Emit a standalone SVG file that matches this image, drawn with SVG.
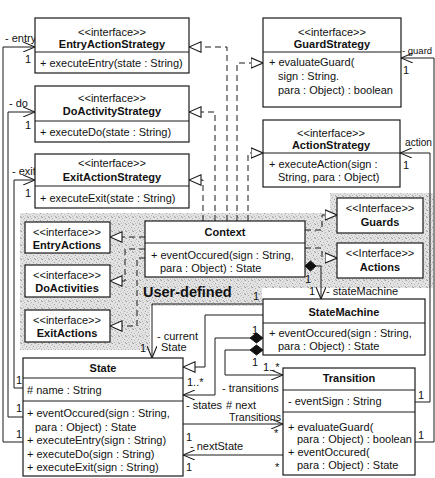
<svg xmlns="http://www.w3.org/2000/svg" width="435" height="478" viewBox="0 0 435 478">
  <style>
    .box { fill: #fff; stroke: #1a1a1a; stroke-width: 1.2; }
    .sep { stroke: #1a1a1a; stroke-width: 1; }
    .t { font-family: "Liberation Sans", Arial, sans-serif; font-size: 11px; fill: #111; }
    .b { font-weight: bold; }
    .c { text-anchor: middle; }
    .ln { fill: none; stroke: #1a1a1a; stroke-width: 1; }
    .dash { stroke-dasharray: 6 4; }
    .dia { fill: #111; stroke: #111; stroke-width: 1; }
  </style>
  <defs>
    <!-- grainy grey fill for the user-defined area -->
    <pattern id="stip" width="7" height="7" patternUnits="userSpaceOnUse">
      <rect width="7" height="7" fill="#e2e2e2"/>
      <rect x="0" y="0" width="1" height="1" fill="#9a9a9a"/>
      <rect x="3" y="1" width="1" height="1" fill="#b0b0b0"/>
      <rect x="5" y="3" width="1" height="1" fill="#a2a2a2"/>
      <rect x="1" y="4" width="1" height="1" fill="#bcbcbc"/>
      <rect x="4" y="5" width="1" height="1" fill="#c4c4c4"/>
      <rect x="6" y="6" width="1" height="1" fill="#aaaaaa"/>
      <rect x="2" y="2" width="1" height="1" fill="#cfcfcf"/>
      <rect x="6" y="0" width="1" height="1" fill="#c8c8c8"/>
      <rect x="2" y="6" width="1" height="1" fill="#b8b8b8"/>
    </pattern>
    <!-- navigable association end -->
    <marker id="open" viewBox="0 0 12 10" refX="12" refY="5" markerWidth="12" markerHeight="10" orient="auto" markerUnits="userSpaceOnUse">
      <path d="M0,0 L12,5 L0,10" fill="none" stroke="#1a1a1a" stroke-width="1.1" stroke-dasharray="none"/>
    </marker>
    <!-- realization / generalization end -->
    <marker id="tri" viewBox="0 0 13 12" refX="12.5" refY="6" markerWidth="13" markerHeight="12" orient="auto" markerUnits="userSpaceOnUse">
      <path d="M0.5,0.8 L12.5,6 L0.5,11.2 Z" fill="#fff" stroke="#1a1a1a" stroke-width="1.1" stroke-dasharray="none"/>
    </marker>
  </defs>

  <!-- user-defined area -->
  <path d="M20,213 H330 V193 H433 V288 H262 V306 H150 V350 H20 Z" fill="url(#stip)"/>
  <text class="t b" x="143" y="297" style="font-size:14.5px">User-defined</text>

  <!-- connectors -->
  <g id="connectors" class="ln">
    <!-- State to strategies -->
    <path d="M23,442 H3 V47 H35" marker-end="url(#open)"/>
    <path d="M23,417 H8 V112 H35" marker-end="url(#open)"/>
    <path d="M23,388 H14 V180 H35" marker-end="url(#open)"/>
    <!-- Context realizes the strategy interfaces -->
    <path class="dash" d="M227,221 V47 H189" marker-end="url(#tri)"/>
    <path class="dash" d="M215,221 V112 H189" marker-end="url(#tri)"/>
    <path class="dash" d="M203,221 V180 H189" marker-end="url(#tri)"/>
    <path class="dash" d="M237,221 V63 H263" marker-end="url(#tri)"/>
    <path class="dash" d="M248,221 V153 H263" marker-end="url(#tri)"/>
    <path class="dash" d="M145,237 H110" marker-end="url(#tri)"/>
    <path class="dash" d="M145,249 H125 V281 H110" marker-end="url(#tri)"/>
    <path class="dash" d="M145,258 H137 V326 H110" marker-end="url(#tri)"/>
    <path class="dash" d="M305,230 H322 V215 H337" marker-end="url(#tri)"/>
    <path class="dash" d="M305,248 H322 V258 H337" marker-end="url(#tri)"/>
    <!-- Context owns StateMachine -->
    <path d="M316,266 H321 V299" marker-end="url(#open)"/>
    <polygon class="dia" points="305,266 310.5,261 316,266 310.5,271"/>
    <!-- current state -->
    <path d="M263,304 H152 V358" marker-end="url(#open)"/>
    <!-- StateMachine is a State -->
    <path d="M263,315 H205 V367 H183" marker-end="url(#tri)"/>
    <!-- StateMachine owns states and transitions -->
    <path d="M250,338 H215 V395 H183" marker-end="url(#open)"/>
    <polygon class="dia" points="263,338 256.5,333 250,338 256.5,343"/>
    <path d="M250,350 H225 V375 H283" marker-end="url(#open)"/>
    <polygon class="dia" points="263,350 256.5,345 250,350 256.5,355"/>
    <!-- State / Transition -->
    <path d="M183,424 H283" marker-end="url(#open)"/>
    <path d="M283,455 H183" marker-end="url(#open)"/>
    <!-- Transition to guard and action -->
    <path d="M415,402 H430 V153 H400" marker-end="url(#open)"/>
    <path d="M415,442 H434 V58 H401" marker-end="url(#open)"/>
  </g>

  <!-- connector labels -->
  <g id="labels" class="t">
    <text x="5" y="42">- entry</text>
    <text x="25" y="63">1</text>
    <text x="9" y="107">- do</text>
    <text x="25" y="129">1</text>
    <text x="12" y="175">- exit</text>
    <text x="25" y="197">1</text>
    <text x="16" y="384">1</text>
    <text x="16" y="412">1</text>
    <text x="16" y="438">1</text>
    <text x="402" y="54" style="font-size:9.5px">- guard</text>
    <text x="403" y="74">1</text>
    <text x="405" y="146" textLength="27" lengthAdjust="spacingAndGlyphs">action</text>
    <text x="403" y="169">1</text>
    <text x="418" y="399">1</text>
    <text x="418" y="439">1</text>
    <text x="305" y="283">1</text>
    <text x="309" y="295">1</text>
    <text x="326" y="295">- stateMachine</text>
    <text x="253" y="300">1</text>
    <text x="140" y="352">1</text>
    <text x="157" y="340">- current</text>
    <text x="161" y="351">State</text>
    <text x="252" y="334">1</text>
    <text x="252" y="366">1</text>
    <text x="263" y="371">1..*</text>
    <text x="222" y="392">- transitions</text>
    <text x="187" y="386">1..*</text>
    <text x="186" y="409">- states</text>
    <text x="226" y="409"># next</text>
    <text x="229" y="421" textLength="52" lengthAdjust="spacingAndGlyphs">Transitions</text>
    <text x="274" y="437">*</text>
    <text x="186" y="441">1</text>
    <text x="190" y="450">- nextState</text>
    <text x="186" y="471">1</text>
    <text x="275" y="471">*</text>
  </g>

  <g id="EntryActionStrategy">
    <rect class="box" x="35" y="18" width="154" height="55"/>
    <line class="sep" x1="35" y1="52" x2="189" y2="52"/>
    <text class="t c" x="112" y="36">&lt;&lt;interface&gt;&gt;</text>
    <text class="t b c" x="112" y="48">EntryActionStrategy</text>
    <text class="t" x="40" y="67">+ executeEntry(state : String)</text>
  </g>

  <g id="DoActivityStrategy">
    <rect class="box" x="35" y="86" width="154" height="56"/>
    <line class="sep" x1="35" y1="121" x2="189" y2="121"/>
    <text class="t c" x="112" y="102">&lt;&lt;interface&gt;&gt;</text>
    <text class="t b c" x="112" y="115">DoActivityStrategy</text>
    <text class="t" x="40" y="136">+ executeDo(state : String)</text>
  </g>

  <g id="ExitActionStrategy">
    <rect class="box" x="35" y="154" width="154" height="54"/>
    <line class="sep" x1="35" y1="186" x2="189" y2="186"/>
    <text class="t c" x="112" y="167">&lt;&lt;interface&gt;&gt;</text>
    <text class="t b c" x="112" y="181">ExitActionStrategy</text>
    <text class="t" x="40" y="202">+ executeExit(state : String)</text>
  </g>

  <g id="GuardStrategy">
    <rect class="box" x="263" y="18" width="138" height="89"/>
    <line class="sep" x1="263" y1="52" x2="401" y2="52"/>
    <text class="t c" x="332" y="36">&lt;&lt;interface&gt;&gt;</text>
    <text class="t b c" x="332" y="48">GuardStrategy</text>
    <text class="t" x="269" y="66">+ evaluateGuard(</text>
    <text class="t" x="278" y="80">sign : String.</text>
    <text class="t" x="278" y="94">para : Object) : boolean</text>
  </g>

  <g id="ActionStrategy">
    <rect class="box" x="263" y="120" width="137" height="67"/>
    <line class="sep" x1="263" y1="153" x2="400" y2="153"/>
    <text class="t c" x="331" y="137">&lt;&lt;interface&gt;&gt;</text>
    <text class="t b c" x="331" y="149">ActionStrategy</text>
    <text class="t" x="269" y="168">+ executeAction(sign :</text>
    <text class="t" x="278" y="181">String, para : Object)</text>
  </g>

  <g id="EntryActions">
    <rect class="box" x="25" y="222" width="85" height="31"/>
    <text class="t c" x="67" y="236">&lt;&lt;interface&gt;&gt;</text>
    <text class="t b c" x="67" y="249">EntryActions</text>
  </g>

  <g id="DoActivities">
    <rect class="box" x="25" y="265" width="85" height="32"/>
    <text class="t c" x="67" y="279">&lt;&lt;interface&gt;&gt;</text>
    <text class="t b c" x="67" y="292">DoActivities</text>
  </g>

  <g id="ExitActions">
    <rect class="box" x="25" y="310" width="85" height="32"/>
    <text class="t c" x="67" y="324">&lt;&lt;interface&gt;&gt;</text>
    <text class="t b c" x="67" y="337">ExitActions</text>
  </g>

  <g id="Guards">
    <rect class="box" x="337" y="198" width="86" height="35"/>
    <text class="t c" x="380" y="212">&lt;&lt;Interface&gt;&gt;</text>
    <text class="t b c" x="380" y="226">Guards</text>
  </g>

  <g id="Actions">
    <rect class="box" x="337" y="243" width="86" height="35"/>
    <text class="t c" x="380" y="257">&lt;&lt;Interface&gt;&gt;</text>
    <text class="t b c" x="380" y="271">Actions</text>
  </g>

  <g id="Context">
    <rect class="box" x="145" y="221" width="160" height="56"/>
    <line class="sep" x1="145" y1="243" x2="305" y2="243"/>
    <text class="t b c" x="225" y="236">Context</text>
    <text class="t" x="151" y="259">+ eventOccured(sign : String,</text>
    <text class="t" x="160" y="272">para : Object) : State</text>
  </g>

  <g id="StateMachine">
    <rect class="box" x="263" y="299" width="162" height="56"/>
    <line class="sep" x1="263" y1="323" x2="425" y2="323"/>
    <text class="t b c" x="344" y="316">StateMachine</text>
    <text class="t" x="269" y="337">+ eventOccured(sign : String,</text>
    <text class="t" x="278" y="350">para : Object) : State</text>
  </g>

  <g id="State">
    <rect class="box" x="23" y="358" width="160" height="118"/>
    <line class="sep" x1="23" y1="378" x2="183" y2="378"/>
    <line class="sep" x1="23" y1="401" x2="183" y2="401"/>
    <text class="t b c" x="103" y="372">State</text>
    <text class="t" x="27" y="394"># name : String</text>
    <text class="t" x="27" y="417">+ eventOccured(sign : String,</text>
    <text class="t" x="35" y="431">para : Object) : State</text>
    <text class="t" x="27" y="444">+ executeEntry(sign : String)</text>
    <text class="t" x="27" y="458">+ executeDo(sign : String)</text>
    <text class="t" x="27" y="471">+ executeExit(sign : String)</text>
  </g>

  <g id="Transition">
    <rect class="box" x="283" y="368" width="132" height="107"/>
    <line class="sep" x1="283" y1="390" x2="415" y2="390"/>
    <line class="sep" x1="283" y1="412" x2="415" y2="412"/>
    <text class="t b c" x="349" y="382">Transition</text>
    <text class="t" x="288" y="405">- eventSign : String</text>
    <text class="t" x="288" y="431">+ evaluateGuard(</text>
    <text class="t" x="297" y="443">para : Object) : boolean</text>
    <text class="t" x="288" y="456">+ eventOccured(</text>
    <text class="t" x="297" y="469">para : Object) : State</text>
  </g>
</svg>
